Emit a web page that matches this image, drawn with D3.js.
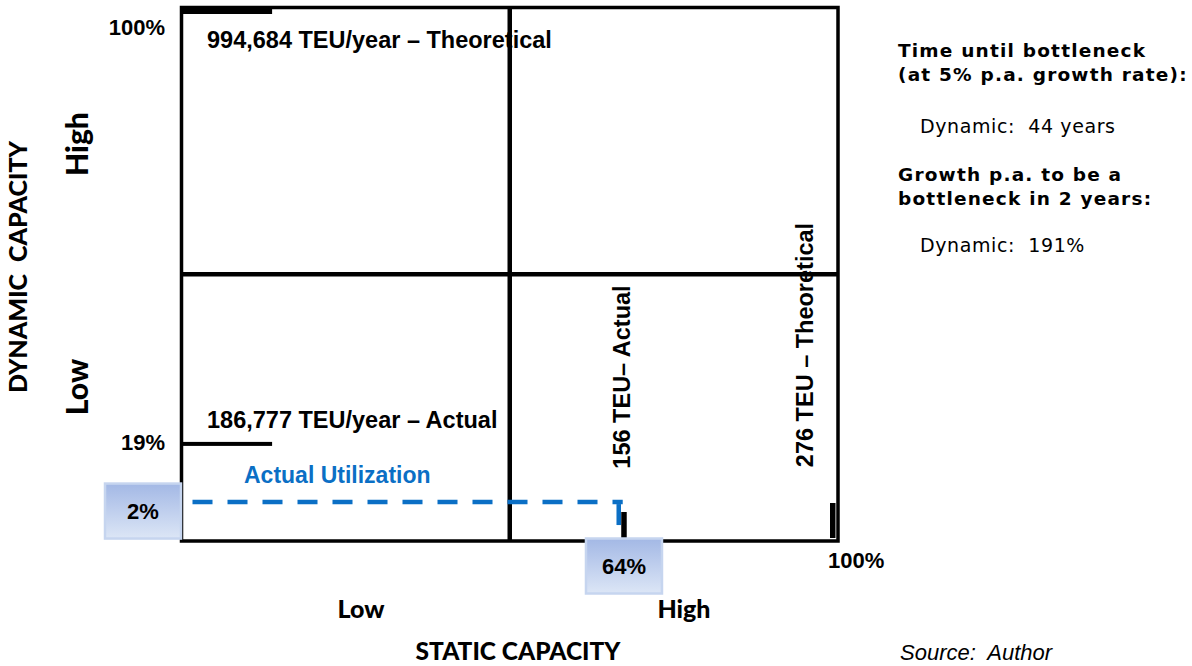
<!DOCTYPE html>
<html>
<head>
<meta charset="utf-8">
<script src="https://cdn.jsdelivr.net/npm/d3@7"></script>
<style>
  html, body { margin: 0; padding: 0; background: #fff; }
  svg { display: block; }
  text { white-space: pre; }
</style>
</head>
<body>
<div id="chart"></div>
<script>
// Chart values
const dynamicLevels = [1.0, 0.182];                 // share of the dynamic axis
const dynamicPct = ["100%", "19%"];
const dynamicNotes = ["994,684 TEU/year – Theoretical", "186,777 TEU/year – Actual"];

const staticLevels = [0.674, 0.992];                // share of the static axis
const staticNotes = ["156 TEU– Actual", "276 TEU – Theoretical"];
const staticEndLabel = "100%";

const utilisation = {x: 0.666, y: 0.073};
const utilisationLabels = ["64%", "2%"];
const utilisationTitle = "Actual Utilization";

const axisLevelNames = ["Low", "High"];
const sideHeadings = [
    ["Time until bottleneck", "(at 5% p.a. growth rate):"],
    ["Growth p.a. to be a", "bottleneck in 2 years:"]
];
const sideValues = ["Dynamic:  44 years", "Dynamic:  191%"];

const W = 1192, H = 666;
const BLUE = "#0b6fc5";
const ARIAL = "'Liberation Sans', Arial, sans-serif";
const CALIBRI = "Lato, 'Open Sans', sans-serif";
const VERDANA = "'DejaVu Sans', Verdana, sans-serif";

const svg = d3.select("#chart").append("svg").attr("width", W).attr("height", H);

// Scales for the quadrant square
const x = d3.scaleLinear().domain([0, 1]).range([181.5, 838]);
const y = d3.scaleLinear().domain([0, 1]).range([541, 7.5]);

const defs = svg.append("defs");
const grad = defs.append("linearGradient").attr("id", "boxGrad")
    .attr("x1", 0).attr("y1", 0).attr("x2", 0).attr("y2", 1);
grad.append("stop").attr("offset", "0%").attr("stop-color", "#a3b8e5");
grad.append("stop").attr("offset", "100%").attr("stop-color", "#dce6f6");

// Quadrant frame and the two dividers
const grid = svg.append("g");
grid.append("rect")
    .attr("x", x(0)).attr("y", y(1))
    .attr("width", x(1) - x(0)).attr("height", y(0) - y(1))
    .attr("fill", "none").attr("stroke", "#000").attr("stroke-width", 3.5);
grid.append("line").attr("x1", x(0.5)).attr("x2", x(0.5)).attr("y1", y(0)).attr("y2", y(1))
    .attr("stroke", "#000").attr("stroke-width", 4.5);
grid.append("line").attr("x1", x(0)).attr("x2", x(1)).attr("y1", y(0.5)).attr("y2", y(0.5))
    .attr("stroke", "#000").attr("stroke-width", 4.5);

// Dynamic capacity levels (horizontal bars on the left edge)
const dyn = svg.append("g");
dyn.selectAll("rect").data(dynamicLevels).join("rect")
    .attr("x", x(0))
    .attr("width", x(0.138) - x(0))
    .attr("y", d => d === 1 ? y(d) - 1.5 : y(d) - 2)
    .attr("height", d => d === 1 ? 8 : 4)
    .attr("fill", "#000");
dyn.selectAll("text.pct").data(dynamicLevels).join("text").attr("class", "pct")
    .attr("x", 165)
    .attr("y", d => d === 1 ? y(d) + 27.5 : y(d) + 6)
    .attr("text-anchor", "end")
    .attr("font-family", ARIAL).attr("font-weight", "bold").attr("font-size", 22)
    .text((d, i) => dynamicPct[i]);
dyn.selectAll("text.note").data(dynamicLevels).join("text").attr("class", "note")
    .attr("x", 207)
    .attr("y", d => d === 1 ? y(d) + 40.5 : y(d) - 16)
    .attr("font-family", ARIAL).attr("font-weight", "bold").attr("font-size", 23.5)
    .text((d, i) => dynamicNotes[i]);

// Static capacity levels (ticks on the bottom edge, rotated notes)
const sta = svg.append("g");
sta.selectAll("line").data(staticLevels).join("line")
    .attr("x1", d => x(d)).attr("x2", d => x(d))
    .attr("y1", y(0) - 3).attr("y2", (d, i) => i === 0 ? y(0) - 29 : y(0) - 38)
    .attr("stroke", "#000").attr("stroke-width", 5.5);
sta.selectAll("text").data(staticLevels).join("text")
    .attr("transform", (d, i) => `translate(${i === 0 ? x(d) + 6 : x(d) - 20},${i === 0 ? 377 : 345}) rotate(-90)`)
    .attr("text-anchor", "middle")
    .attr("font-family", ARIAL).attr("font-weight", "bold").attr("font-size", 23.5)
    .text((d, i) => staticNotes[i]);
svg.append("text")
    .attr("x", x(1) - 10).attr("y", 568)
    .attr("font-family", ARIAL).attr("font-weight", "bold").attr("font-size", 22)
    .text(staticEndLabel);

// Actual utilisation: dashed guide lines
const util = svg.append("g");
util.append("line")
    .attr("x1", x(0)).attr("x2", x(utilisation.x) + 4)
    .attr("y1", y(utilisation.y)).attr("y2", y(utilisation.y))
    .attr("stroke", BLUE).attr("stroke-width", 4.5)
    .attr("stroke-dasharray", "20 15").attr("stroke-dashoffset", 24);
util.append("line")
    .attr("x1", x(utilisation.x)).attr("x2", x(utilisation.x))
    .attr("y1", y(utilisation.y) + 2).attr("y2", y(0))
    .attr("stroke", BLUE).attr("stroke-width", 4.5)
    .attr("stroke-dasharray", "21 20");
util.append("text")
    .attr("x", 244).attr("y", y(utilisation.y) - 19)
    .attr("font-family", ARIAL).attr("font-weight", "bold").attr("font-size", 23)
    .attr("fill", BLUE)
    .text(utilisationTitle);

// Value boxes (64% on the static axis, 2% on the dynamic axis)
const boxes = [
    {cx: x(staticLevels[0]), cy: 566, text: utilisationLabels[0]},
    {cx: 143, cy: y(utilisation.y) + 9, text: utilisationLabels[1]}
];
const bx = svg.append("g").selectAll("g").data(boxes).join("g")
    .attr("transform", d => `translate(${d.cx},${d.cy})`);
bx.append("rect")
    .attr("x", -38).attr("y", -27.5).attr("width", 76).attr("height", 55)
    .attr("fill", "url(#boxGrad)").attr("stroke", "#c6d5ef").attr("stroke-width", 2.5);
bx.append("text")
    .attr("y", 8).attr("text-anchor", "middle")
    .attr("font-family", ARIAL).attr("font-weight", "bold").attr("font-size", 22)
    .text(d => d.text);

// Axis titles
const axes = svg.append("g").attr("font-family", CALIBRI).attr("font-weight", "900").attr("fill", "#000");
axes.selectAll("text.xl").data(axisLevelNames).join("text").attr("class", "xl")
    .attr("x", (d, i) => i === 0 ? 361 : 684).attr("y", 618)
    .attr("text-anchor", "middle").attr("font-size", 25)
    .text(d => d);
axes.append("text")
    .attr("x", 518).attr("y", 660).attr("text-anchor", "middle").attr("font-size", 24.5)
    .text("STATIC CAPACITY");
axes.selectAll("text.yl").data(axisLevelNames).join("text").attr("class", "yl")
    .attr("transform", (d, i) => `translate(88,${i === 0 ? 387 : 144}) rotate(-90)`)
    .attr("text-anchor", "middle").attr("font-size", 30)
    .text(d => d);
axes.append("text")
    .attr("transform", "translate(27,267) rotate(-90)")
    .attr("text-anchor", "middle").attr("font-size", 25)
    .text("DYNAMIC  CAPACITY");

// Side notes
const side = svg.append("g").attr("font-family", VERDANA);
sideHeadings.forEach((lines, k) => {
    const top = k === 0 ? 57 : 181;
    lines.forEach((t, j) => {
        side.append("text")
            .attr("x", 898).attr("y", top + j * 23.5)
            .attr("font-weight", "bold").attr("font-size", 18.5).attr("letter-spacing", 1.2)
            .text(t);
    });
    side.append("text")
        .attr("x", 920).attr("y", k === 0 ? 133 : 252)
        .attr("font-size", 19).attr("letter-spacing", 0.6)
        .text(sideValues[k]);
});

svg.append("text")
    .attr("x", 900).attr("y", 660)
    .attr("font-family", ARIAL).attr("font-style", "italic").attr("font-size", 22)
    .text("Source:  Author");
</script>
</body>
</html>
